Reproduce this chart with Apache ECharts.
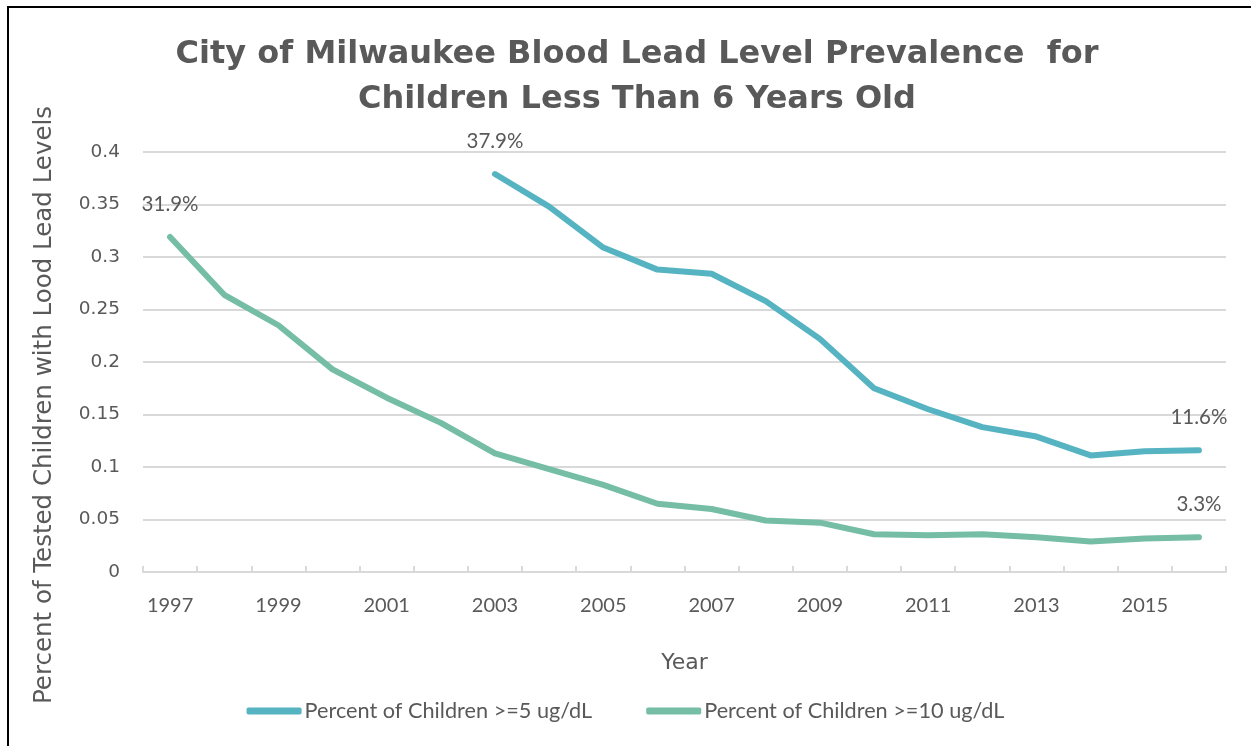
<!DOCTYPE html>
<html>
<head>
<meta charset="utf-8">
<script src="https://cdn.jsdelivr.net/npm/echarts@6/dist/echarts.min.js"></script>
<style>
html,body{margin:0;padding:0;background:#fff;}
#chart{width:1251px;height:746px;}
</style>
</head>
<body>
<div id="chart"></div>
<script>
const years = ['1997','1998','1999','2000','2001','2002','2003','2004','2005','2006','2007','2008','2009','2010','2011','2012','2013','2014','2015','2016'];
const pct5 = [null,null,null,null,null,null,0.379,0.348,0.309,0.288,0.284,0.258,0.222,0.175,0.155,0.138,0.129,0.111,0.115,0.116];
const pct10 = [0.319,0.264,0.235,0.193,0.166,0.142,0.113,0.098,0.083,0.065,0.060,0.049,0.047,0.036,0.035,0.036,0.033,0.029,0.032,0.033];
const seriesNames = ['Percent of Children >=5 ug/dL','Percent of Children >=10 ug/dL'];
const titleText = 'City of Milwaukee Blood Lead Level Prevalence  for\nChildren Less Than 6 Years Old';
const yTitle = 'Percent of Tested Children with Lood Lead Levels';
const xTitle = 'Year';

const GOTHIC = '"DejaVu Sans", sans-serif';
const CALIBRI = 'Lato, "Open Sans", sans-serif';
const TXT = '#595959';

function withEndLabels(arr){
  let first = arr.findIndex(v => v !== null);
  let last = arr.length - 1 - [...arr].reverse().findIndex(v => v !== null);
  return arr.map((v,i) => {
    if (v === null) return null;
    if (i === first || i === last) {
      return {value: v, label: {show: true}};
    }
    return v;
  });
}

const chart = echarts.init(document.getElementById('chart'), null, {renderer:'canvas'});
const labelCfg = {
  show: false, position: 'top', distance: 22,
  fontFamily: CALIBRI, fontSize: 20.5, color: TXT,
  formatter: p => (p.value*100).toFixed(1) + '%'
};
chart.setOption({
  backgroundColor: '#fff',
  animation: false,
  title: {
    text: titleText,
    left: 632, top: 27, textAlign: 'center',
    textStyle: {fontFamily: GOTHIC, fontWeight: 'bold', fontSize: 32, color: TXT, lineHeight: 45}
  },
  grid: {left: 143, right: 25, top: 152, bottom: 174, containLabel: false},
  legend: {
    bottom: 19, left: 'center',
    itemWidth: 55, itemHeight: 7, itemGap: 54,
    icon: 'roundRect',
    textStyle: {fontFamily: CALIBRI, fontSize: 21.7, color: TXT, padding: [0,0,0,-2]},
    data: seriesNames
  },
  xAxis: {
    type: 'category', data: years, boundaryGap: true,
    name: xTitle, nameLocation: 'middle', nameGap: 80,
    nameTextStyle: {fontFamily: GOTHIC, fontSize: 22, color: TXT},
    axisLine: {lineStyle: {color: '#d9d9d9', width: 2}},
    axisTick: {show: true, inside: true, length: 6, interval: 0, lineStyle: {color: '#d9d9d9', width: 2}},
    axisLabel: {interval: 1, margin: 24, fontFamily: CALIBRI, fontSize: 20, color: TXT},
    splitLine: {show: false}
  },
  yAxis: {
    type: 'value', min: 0, max: 0.4, interval: 0.05,
    axisLine: {show: false}, axisTick: {show: false},
    axisLabel: {margin: 23, fontFamily: GOTHIC, fontSize: 18.5, color: TXT,
      formatter: v => String(parseFloat(v.toFixed(2)))},
    splitLine: {lineStyle: {color: '#d9d9d9', width: 2}}
  },
  graphic: [
    {type: 'text', rotation: Math.PI/2, x: 45, y: 405,
     style: {text: yTitle, fontFamily: GOTHIC, fontSize: 24.5, fill: TXT, textAlign: 'center', textVerticalAlign: 'middle'}},
    {type: 'line', shape: {x1: 7, y1: 7, x2: 1251, y2: 7}, style: {stroke: '#000', lineWidth: 2}},
    {type: 'line', shape: {x1: 8, y1: 7, x2: 8, y2: 746}, style: {stroke: '#000', lineWidth: 2}}
  ],
  series: [
    {name: seriesNames[0], type: 'line', data: withEndLabels(pct5), showSymbol: true, symbol: 'circle', symbolSize: 0,
     connectNulls: false, color: '#56b4c2',
     lineStyle: {width: 6, color: '#56b4c2', cap: 'round', join: 'round'}, label: labelCfg},
    {name: seriesNames[1], type: 'line', data: withEndLabels(pct10), showSymbol: true, symbol: 'circle', symbolSize: 0,
     color: '#75bea5',
     lineStyle: {width: 6, color: '#75bea5', cap: 'round', join: 'round'}, label: labelCfg}
  ]
});
</script>
</body>
</html>
